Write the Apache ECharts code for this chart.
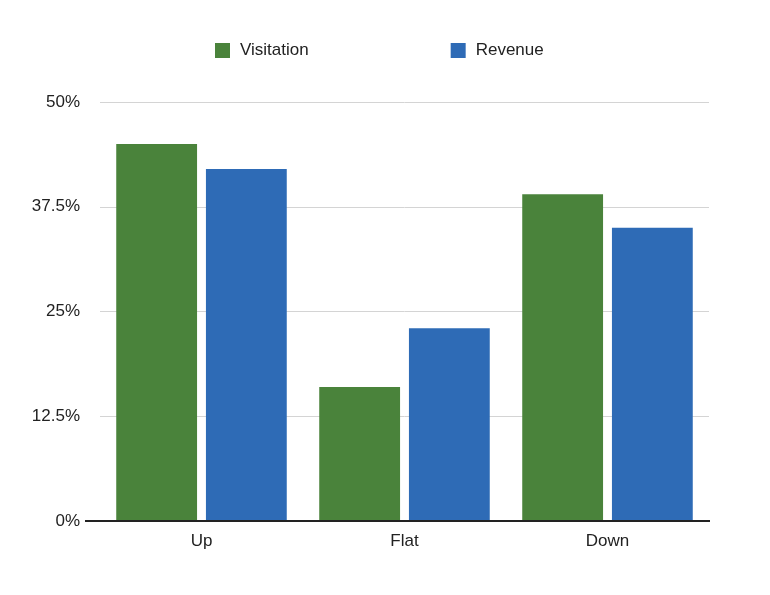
<!DOCTYPE html>
<html>
<head>
<meta charset="utf-8">
<script src="https://cdn.jsdelivr.net/npm/echarts@6/dist/echarts.min.js"></script>
<style>html,body{margin:0;padding:0;background:#fff;}#c{width:770px;height:595px;}</style>
</head>
<body>
<div id="c"></div>
<script>
const categories = ['Up', 'Flat', 'Down'];
const visitation = [45, 16, 39];
const revenue = [42, 23, 35];
const yTicks = ['0%', '12.5%', '25%', '37.5%', '50%'];

const chart = echarts.init(document.getElementById('c'));
const font = 'Helvetica, "Liberation Sans", Arial, sans-serif';
chart.setOption({
  animation: false,
  backgroundColor: '#ffffff',
  legend: {
    top: 37,
    left: 210,
    itemWidth: 15,
    itemHeight: 15,
    itemGap: 142,
    icon: 'rect',
    textStyle: { fontFamily: font, fontSize: 17, color: '#222', padding: [0, 0, 0, 5] },
    data: ['Visitation', 'Revenue']
  },
  grid: { left: 100, right: 61, top: 102, bottom: 74 },
  xAxis: {
    type: 'category',
    data: categories,
    axisLine: { show: false },
    axisTick: { show: false },
    axisLabel: { fontFamily: font, fontSize: 17, color: '#222', margin: 12 }
  },
  yAxis: {
    type: 'value',
    min: 0,
    max: 50,
    interval: 12.5,
    axisLine: { show: false },
    axisTick: { show: false },
    splitLine: { lineStyle: { color: '#d4d4d4', width: 1 } },
    axisLabel: {
      fontFamily: font, fontSize: 17, color: '#222', margin: 20,
      formatter: function (v) { return yTicks[Math.round(v / 12.5)]; }
    }
  },
  series: [
    {
      name: 'Visitation', type: 'bar', data: visitation,
      itemStyle: { color: '#4a833b' },
      barGap: '11%', barCategoryGap: '16%'
    },
    {
      name: 'Revenue', type: 'bar', data: revenue,
      itemStyle: { color: '#2e6bb6' },
      barGap: '11%', barCategoryGap: '16%'
    }
  ]
});
const y0 = chart.convertToPixel({ yAxisIndex: 0 }, 0);
chart.setOption({
  graphic: [{
    type: 'line', z: 100,
    shape: { x1: 85, y1: y0, x2: 710, y2: y0 },
    style: { stroke: '#222', lineWidth: 2 }
  }]
});
</script>
</body>
</html>
